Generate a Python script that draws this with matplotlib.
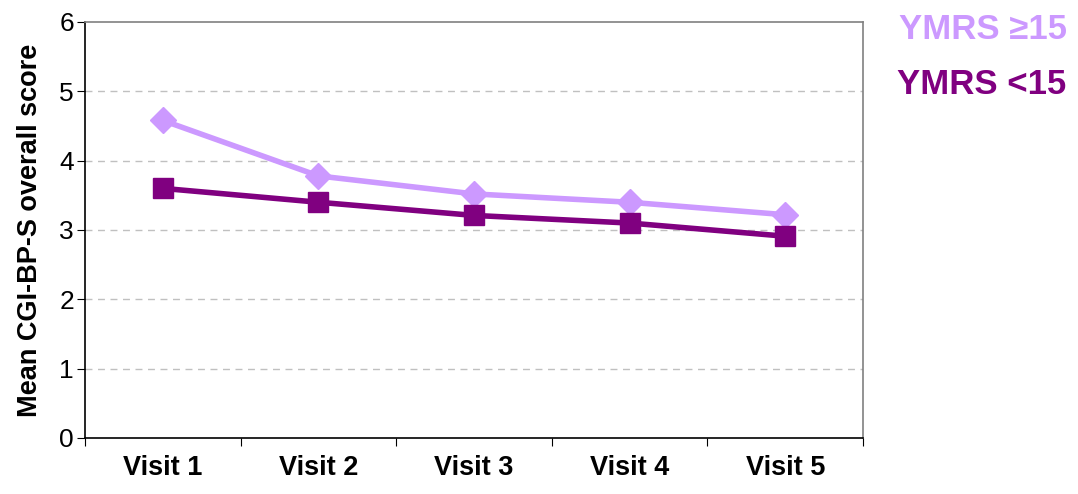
import matplotlib.pyplot as plt

plt.rcParams['font.family'] = ['Liberation Sans', 'DejaVu Sans']

visits = ['Visit 1', 'Visit 2', 'Visit 3', 'Visit 4', 'Visit 5']
ymrs_high = [4.58, 3.78, 3.52, 3.40, 3.22]   # YMRS >=15
ymrs_low = [3.60, 3.40, 3.21, 3.10, 2.91]    # YMRS <15
legend_labels = ['YMRS \u226515', 'YMRS <15']
colors = ['#CC99FF', '#800080']

fig = plt.figure(figsize=(10.78, 4.94), dpi=100)
ax = fig.add_axes([0.0789, 0.1134, 0.7217, 0.8421])

x = list(range(len(visits)))
ax.plot(x, ymrs_high, color=colors[0], lw=4, marker='D', ms=13, zorder=3)
ax.plot(x, ymrs_low, color=colors[1], lw=4, marker='s', ms=14, zorder=4)

ax.set_xlim(-0.5, len(visits) - 0.5)
ax.set_ylim(0, 6)
ax.set_yticks(range(0, 7))
ax.tick_params(axis='y', labelsize=19, length=6, direction='out', pad=2)

# ticks between the categories, labels centred on them
ax.set_xticks([i - 0.5 for i in range(len(visits) + 1)])
ax.set_xticklabels([])
ax.set_xticks(x, minor=True)
ax.set_xticklabels(visits, minor=True, fontsize=19.5, fontweight='bold')
ax.tick_params(axis='x', which='major', length=6, direction='out')
ax.tick_params(axis='x', which='minor', length=0, pad=12)

for yv in range(1, 6):
    ax.axhline(yv, color='#c0c0c0', lw=1, ls=(0, (5, 4)), zorder=1)

ax.spines['left'].set_color('black')
ax.spines['bottom'].set_color('black')
ax.spines['top'].set_color('#808080')
ax.spines['right'].set_color('#808080')
for s in ax.spines.values():
    s.set_linewidth(1.2)

ax.set_ylabel('Mean CGI-BP-S overall score', fontsize=19.5, fontweight='bold', labelpad=12)

fig.text(0.834, 0.94, legend_labels[0], color=colors[0], fontsize=25,
         fontweight='bold', va='center', ha='left')
fig.text(0.832, 0.828, legend_labels[1], color=colors[1], fontsize=25,
         fontweight='bold', va='center', ha='left')

plt.savefig('out.png', dpi=100)
